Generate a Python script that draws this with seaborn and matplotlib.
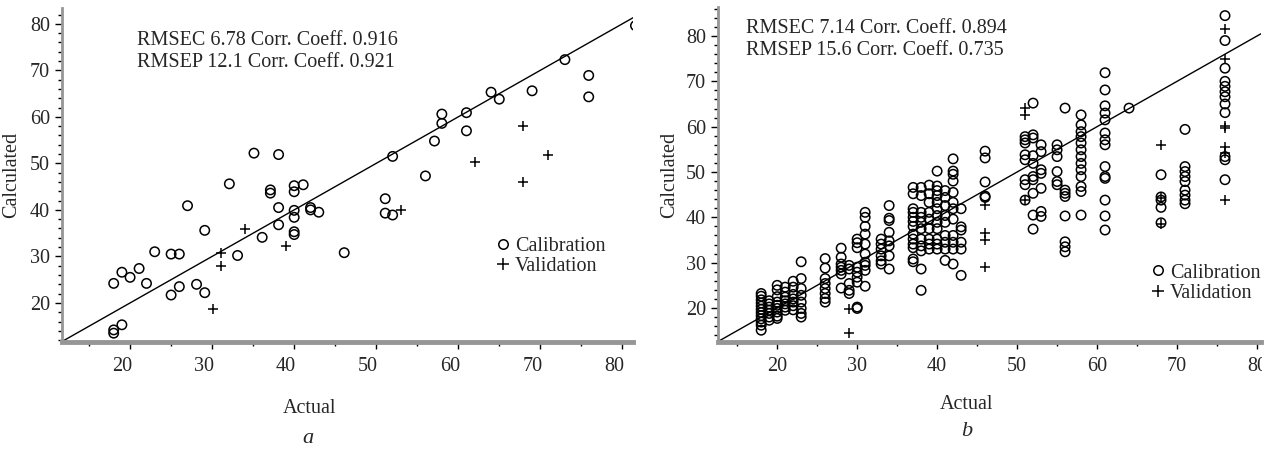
import numpy as np
import pandas as pd
import matplotlib
matplotlib.use("Agg")
import matplotlib.pyplot as plt
import seaborn as sns
from matplotlib.ticker import MultipleLocator
from matplotlib.lines import Line2D
from matplotlib.transforms import ScaledTranslation, Bbox, TransformedBbox

# ---------------- data ----------------
# panel a
a_cal_actual = [18.0, 19.0, 20.0, 21.1, 22.0, 23.0, 18.0, 18.0, 19.0, 25.0, 26.0, 25.0, 26.0,
                27.0, 28.1, 29.1, 29.1, 32.1, 33.1, 35.1, 36.1, 37.1, 37.1, 38.1, 38.1, 38.1,
                40.0, 40.0, 40.0, 40.0, 40.0, 40.0, 41.1, 42.0, 42.0, 43.0, 46.1, 51.1, 51.1,
                52.0, 52.0, 56.0, 57.1, 58.0, 58.0, 61.0, 61.0, 64.0, 65.0, 69.0, 73.0, 75.9,
                75.9, 81.6]
a_cal_calc = [24.2, 26.6, 25.5, 27.4, 24.2, 31.0, 14.2, 13.5, 15.3, 30.5, 30.5, 21.7, 23.5,
              40.9, 24.0, 22.2, 35.6, 45.6, 30.2, 52.2, 34.1, 44.3, 43.6, 51.9, 40.5, 36.8,
              45.2, 43.9, 39.9, 38.4, 35.3, 34.7, 45.4, 40.5, 40.0, 39.5, 30.8, 42.4, 39.3,
              38.9, 51.5, 47.3, 54.8, 60.6, 58.6, 60.9, 57.0, 65.3, 63.8, 65.6, 72.3, 68.9,
              64.3, 79.6]
a_val_actual = [34.0, 31.1, 31.1, 30.1, 39.0, 53.0, 62.0, 67.9, 67.9, 70.9]
a_val_calc = [35.9, 30.7, 27.9, 18.6, 32.3, 39.9, 50.4, 58.1, 45.9, 51.7]

# panel b : calibration values grouped by actual value
b_cal_columns = [18, 19, 20, 21, 22, 23, 26, 28, 29, 30, 31, 33, 34, 37, 38, 39, 40, 41,
                 42, 43, 46, 51, 52, 53, 55, 56, 58, 61, 64, 68, 71, 76]
b_cal_values = [
    [23.2, 22.6, 21.8, 21.1, 20.4, 19.7, 19.0, 18.3, 17.6, 16.9, 16.2, 15.1],
    [21.6, 20.9, 20.2, 19.5, 18.8, 18.0, 17.3],
    [25.0, 24.0, 22.5, 21.3, 20.6, 19.9, 19.1, 18.2, 17.7],
    [24.6, 23.5, 22.4, 21.6, 20.9, 20.2, 19.5],
    [25.9, 24.6, 23.0, 22.0, 21.3, 20.5, 19.6],
    [30.2, 26.5, 24.3, 22.8, 21.3, 19.9, 18.8, 18.0],
    [30.9, 28.8, 26.5, 25.4, 24.3, 23.2, 22.1, 21.3],
    [33.2, 31.2, 29.7, 29.0, 28.3, 27.5, 24.4],
    [29.4, 28.6, 25.4, 23.9, 23.2],
    [35.2, 34.4, 33.3, 29.0, 27.9, 26.8, 25.7, 20.2, 19.9],
    [41.1, 40.0, 38.0, 36.3, 34.1, 31.9, 30.1, 29.4, 28.3, 24.8],
    [35.2, 34.1, 33.0, 31.5, 30.4, 29.7],
    [42.6, 39.8, 39.3, 36.7, 34.8, 33.7, 31.5, 28.6],
    [46.6, 45.2, 41.9, 41.1, 40.0, 39.1, 38.0, 36.3, 35.2, 34.1, 33.3, 30.8, 30.2],
    [46.6, 44.8, 41.1, 40.0, 38.9, 37.5, 35.2, 33.7, 32.6, 28.6, 23.9],
    [47.1, 45.2, 43.3, 41.1, 39.6, 37.5, 35.2, 34.1, 33.0],
    [50.2, 46.9, 45.9, 44.8, 43.3, 41.9, 40.4, 38.9, 37.5, 35.2, 34.1, 33.0],
    [45.9, 44.4, 42.6, 40.4, 38.9, 36.0, 34.5, 33.0, 30.5],
    [52.9, 50.2, 49.5, 48.0, 45.5, 43.3, 41.9, 39.6, 36.0, 34.5, 33.0, 29.7],
    [41.9, 37.9, 37.2, 34.5, 33.0, 27.2],
    [54.6, 53.1, 47.8, 44.7, 44.4],
    [57.8, 57.1, 56.4, 53.8, 52.7, 48.3, 47.2, 43.8],
    [65.2, 58.2, 57.5, 53.6, 51.9, 49.0, 48.3, 45.3, 40.5, 37.4],
    [56.0, 54.5, 50.5, 49.7, 46.4, 41.3, 40.2],
    [56.0, 54.9, 53.4, 50.1, 47.9, 47.2],
    [64.1, 46.0, 45.3, 44.6, 40.3, 34.6, 33.5, 32.4],
    [62.6, 60.4, 58.9, 57.8, 56.4, 54.9, 53.4, 51.9, 50.5, 49.0, 46.8, 45.7, 40.5],
    [71.9, 68.1, 64.6, 63.0, 61.5, 58.6, 57.1, 56.0, 51.2, 49.0, 48.6, 43.8, 40.3, 37.2],
    [64.1],
    [49.4, 44.5, 43.8, 42.2, 38.8],
    [59.4, 51.2, 50.1, 49.0, 47.9, 46.0, 44.9, 43.8, 43.0],
    [84.5, 79.0, 72.9, 70.0, 68.9, 67.7, 66.6, 65.0, 63.1, 53.4, 52.7, 48.3],
]
b_val_actual = [29, 29, 46, 46, 46, 46, 51, 51, 51, 68, 68, 68, 76, 76, 76, 76, 76, 76, 76]
b_val_calc = [19.8, 14.5, 42.7, 36.5, 34.9, 29.1, 64.1, 62.6, 43.8, 56.0, 44.3, 38.6,
              81.5, 74.9, 60.2, 59.7, 55.5, 54.1, 43.8]

stats_a = ["RMSEC 6.78 Corr. Coeff. 0.916", "RMSEP 12.1 Corr. Coeff. 0.921"]
stats_b = ["RMSEC 7.14 Corr. Coeff. 0.894", "RMSEP 15.6 Corr. Coeff. 0.735"]
legend_labels = ["Calibration", "Validation"]
y_ticks = [20, 30, 40, 50, 60, 70, 80]
x_ticks = [20, 30, 40, 50, 60, 70, 80]

# ---------------- tables ----------------
dfa_cal = pd.DataFrame({"Actual": a_cal_actual, "Calculated": a_cal_calc})
dfa_val = pd.DataFrame({"Actual": a_val_actual, "Calculated": a_val_calc})
b_x, b_y = [], []
for col, vals in zip(b_cal_columns, b_cal_values):
    b_x += [col] * len(vals)
    b_y += vals
dfb_cal = pd.DataFrame({"Actual": b_x, "Calculated": b_y})
dfb_val = pd.DataFrame({"Actual": b_val_actual, "Calculated": b_val_calc})

# ---------------- figure ----------------
sns.set_style("ticks")
plt.rcParams["font.family"] = ["Liberation Serif", "DejaVu Serif"]
FS = 14.5

fig = plt.figure(figsize=(12.71, 4.49), dpi=100)
axA = fig.add_axes([62 / 1271, 1 - 342 / 449, 571 / 1271, 334 / 449])
axB = fig.add_axes([718 / 1271, 1 - 342 / 449, 543 / 1271, 335 / 449])

limits = {axA: ((11.7, 81.3), (11.6, 83.4)), axB: ((12.6, 80.5), (12.5, 86.4))}

for ax, dcal, dval, stats, txt_xy, leg_xy, lab_xy, ylab_x in [
    (axA, dfa_cal, dfa_val, stats_a, (0.131, 0.904, 0.838), (0.760, 0.256), (0.434, -0.171), -0.072),
    (axB, dfb_cal, dfb_val, stats_b, (0.052, 0.937, 0.869), (0.797, 0.176), (0.457, -0.158), -0.072),
]:
    xl, yl = limits[ax]
    sns.scatterplot(data=dcal, x="Actual", y="Calculated", ax=ax, marker="o", s=46,
                    facecolor="none", edgecolor="black", linewidth=1.1, zorder=3)
    sns.scatterplot(data=dval, x="Actual", y="Calculated", ax=ax, marker="+", s=60,
                    color="black", linewidth=1.1, zorder=3)
    ident = pd.DataFrame({"x": list(xl), "y": list(xl)})
    sns.lineplot(data=ident, x="x", y="y", ax=ax, color="black", linewidth=1.0, zorder=2)

    ax.set_xlim(*xl)
    ax.set_ylim(*yl)
    ax.set_xticks(x_ticks)
    ax.set_yticks(y_ticks)
    ax.xaxis.set_minor_locator(MultipleLocator(5))
    ax.yaxis.set_minor_locator(MultipleLocator(2))
    ax.tick_params(axis="both", which="major", direction="out", length=5, width=1,
                   color="black", labelsize=FS)
    ax.tick_params(axis="both", which="minor", direction="out", length=3, width=1, color="black")
    ax.tick_params(axis="x", which="major", pad=5.8)
    ax.tick_params(axis="y", which="major", pad=3.5)
    for side in ["top", "right"]:
        ax.spines[side].set_visible(False)
    ax.spines["left"].set_color("#969696")
    ax.spines["left"].set_linewidth(2.0)
    ax.spines["bottom"].set_color("#969696")
    ax.spines["bottom"].set_linewidth(3.5)

    ax.set_xlabel("Actual", fontsize=FS)
    ax.set_ylabel("Calculated", fontsize=FS)
    ax.xaxis.set_label_coords(*lab_xy)
    ax.yaxis.set_label_coords(ylab_x, 0.5)

    ax.text(txt_xy[0], txt_xy[1], stats[0], transform=ax.transAxes, va="center", ha="left", fontsize=FS)
    ax.text(txt_xy[0], txt_xy[2], stats[1], transform=ax.transAxes, va="center", ha="left", fontsize=FS)

    handles = [Line2D([], [], marker="o", ls="none", mfc="none", mec="black", ms=6.8, mew=1.1),
               Line2D([], [], marker="+", ls="none", color="black", ms=8.5, mew=1.1)]
    ax.legend(handles, legend_labels, loc="center left", bbox_to_anchor=leg_xy, frameon=False,
              handlelength=0.7, handletextpad=0.25, labelspacing=0.05, borderpad=0,
              borderaxespad=0, fontsize=FS)

# panel a tick labels sit slightly left of their ticks
for lab in axA.get_xticklabels():
    lab.set_transform(lab.get_transform() + ScaledTranslation(-8 / 100, 0, fig.dpi_scale_trans))

# panel b: the figure is cut just right of the axis end
clip = TransformedBbox(Bbox([[0, 0], [1262 / 1271, 1]]), fig.transFigure)
for lab in axB.get_xticklabels():
    lab.set_clip_box(clip)
    lab.set_clip_on(True)

fig.text(308 / 1271, 1 - 443 / 449, "a", fontsize=16, style="italic", ha="center", va="baseline")
fig.text(967 / 1271, 1 - 436 / 449, "b", fontsize=16, style="italic", ha="center", va="baseline")

fig.savefig("out.png", dpi=100)
